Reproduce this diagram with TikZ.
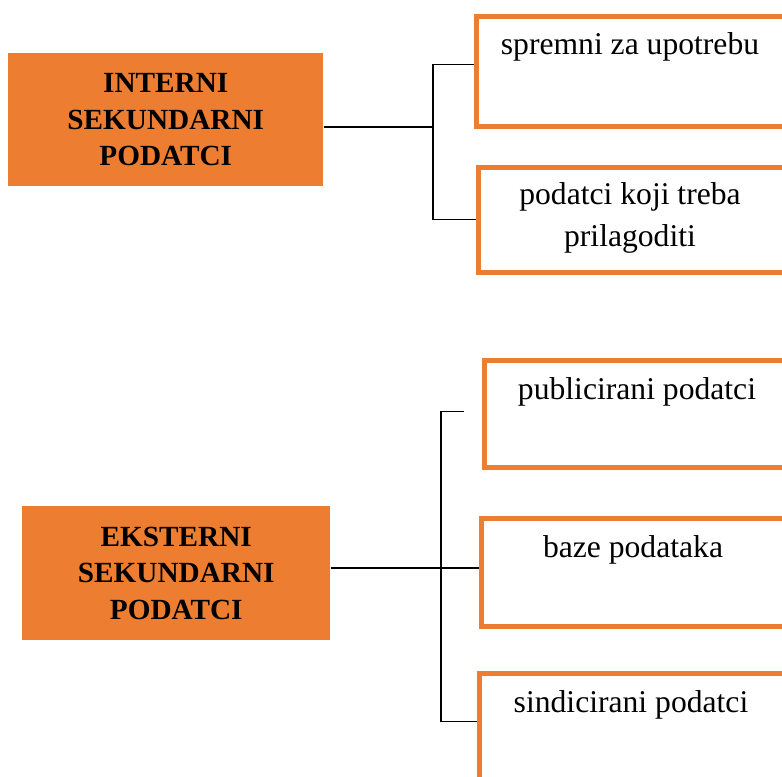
\documentclass[tikz,border=0pt]{standalone}
\usepackage{fontspec}
\setmainfont{Liberation Serif}
\usepackage{tikz}

\definecolor{boxorange}{HTML}{ED7D31}

\begin{document}
\begin{tikzpicture}[
            mainbox/.style={fill=boxorange, align=center, anchor=north west, inner sep=0pt,
                font=\fontsize{20.8}{26}\selectfont\bfseries},
            subbox/.style={draw=boxorange, line width=3.3pt, fill=white, anchor=north west,
                minimum width=8.2cm, inner sep=0pt},
            subtext/.style={align=center, anchor=base, font=\fontsize{22.5}{29.9}\selectfont},
            link/.style={line width=0.9pt}]
            \useasboundingbox (0,0) rectangle (19.55,19.4);
            \clip (0,0) rectangle (19.55,19.4);

            \node[mainbox, minimum width=7.875cm, minimum height=3.325cm] (int) at (0.2,18.075) {INTERNI\\SEKUNDARNI\\PODATCI};
            \node[mainbox, minimum width=7.7cm, minimum height=3.35cm] (eks) at (0.55,6.75) {EKSTERNI\\SEKUNDARNI\\PODATCI};

            \node[subbox, minimum height=2.75cm] (r1) at (11.85,19.05) {};
            \node[subbox, minimum height=2.625cm] (r2) at (11.9,15.275) {};
            \node[subbox, minimum height=2.675cm] (r3) at (12.05,10.45) {};
            \node[subbox, minimum height=2.7cm] (r4) at (11.975,6.5) {};
            \node[subbox, minimum height=2.7cm] (r5) at (11.925,2.625) {};

            \node[subtext] (t1) at (15.75,18.025) {spremni za upotrebu};
            \node[subtext] (t2) at (15.75,13.225) {podatci koji treba\\prilagoditi};
            \node[subtext] (t3) at (15.925,9.4) {publicirani podatci};
            \node[subtext] (t4) at (15.825,5.45) {baze podataka};
            \node[subtext] (t5) at (15.775,1.6) {sindicirani podatci};

            % interni
            \coordinate (ja) at (10.825,16.225);
            \draw[link] (int.east |- ja) -- (ja);
            \draw[link] (ja) |- ([yshift=0.175cm]r1.west);
            \draw[link] (ja) |- (r2.west);

            % eksterni
            \coordinate (jb) at (11.025,5.2);
            \coordinate (e3) at ([xshift=-0.45cm,yshift=0.06cm]r3.west);
            \draw[link] (eks.east |- jb) -- (jb);
            \draw[link] (jb) |- (e3);
            \draw[link] (jb) -- (r4.west |- jb);
            \draw[link] (jb) |- ([yshift=0.15cm]r5.west);

        \end{tikzpicture}
\end{document}
